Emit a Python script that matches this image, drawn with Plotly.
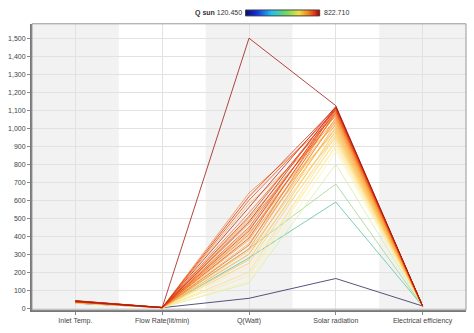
import plotly.graph_objects as go
from plotly.colors import sample_colorscale

# ---- data ----
categories = ["Inlet Temp.", "Flow Rate(lit/min)", "Q(Watt)", "Solar radiation", "Electrical efficiency"]

inlet_temp = [38, 42, 40, 36, 41, 39, 35, 40, 37, 34, 39, 36, 38, 41, 33, 37, 35, 36, 32, 39, 34, 35, 31, 36, 33, 30, 34, 30, 32, 29, 31, 30, 31, 30, 29, 28]
flow_rate = [3, 4, 4, 3, 4, 3, 4, 3, 4, 3, 4, 3, 4, 3, 3, 4, 3, 3, 3, 4, 3, 3, 3, 3, 3, 3, 3, 3, 3, 3, 3, 3, 3, 3, 3, 3]
q_watt = [1500, 560, 480, 620, 430, 510, 390, 600, 450, 350, 530, 410, 470, 640, 330, 500, 380, 440, 300, 580, 360, 420, 270, 490, 320, 250, 400, 200, 300, 180, 230, 150, 140, 330, 280, 55]
solar_rad = [1125, 1120, 1118, 1115, 1112, 1110, 1105, 1100, 1095, 1090, 1085, 1080, 1072, 1065, 1058, 1050, 1042, 1035, 1025, 1015, 1005, 995, 985, 975, 965, 955, 945, 935, 920, 905, 890, 870, 800, 690, 590, 165]
elec_eff = [12, 12, 12, 12, 12, 12, 12, 12, 12, 12, 12, 12, 12, 12, 12, 12, 12, 12, 12, 12, 12, 12, 12, 12, 12, 12, 12, 12, 12, 12, 12, 12, 12, 12, 12, 12]
q_sun = [822.71, 818.7, 817.3, 815.1, 812.9, 811.4, 807.8, 804.1, 800.4, 796.8, 793.1, 789.5, 783.6, 778.5, 773.4, 767.6, 761.7, 756.6, 749.3, 742.0, 734.7, 727.3, 720.0, 712.7, 705.4, 698.1, 690.8, 683.5, 672.5, 661.6, 650.6, 636.0, 584.8, 504.4, 431.3, 120.45]

q_min, q_max = 120.45, 822.71

line_scale = [
    [0.0, "#2a2c5e"], [0.44, "#5cc3a0"], [0.55, "#9fd993"], [0.66, "#dcefa6"],
    [0.74, "#fdf6b0"], [0.80, "#fde08a"], [0.86, "#fcc050"], [0.92, "#fba040"],
    [0.96, "#f57025"], [0.99, "#e03515"], [1.0, "#a01a14"],
]
jet_scale = [
    [0.0, "#0a0a70"], [0.15, "#1030e0"], [0.35, "#20c0f0"], [0.55, "#70d860"],
    [0.72, "#f0e040"], [0.85, "#f08020"], [0.95, "#e02010"], [1.0, "#900000"],
]

W, H = 474, 333
ML, MR, MT, MB = 27, 8, 8, 19
pw = W - ML - MR
ph = H - MT - MB


def px_y(y):
    return (H - MB - y) / ph


def px_x(x):
    return (x - ML) / pw


fig = go.Figure()

order = sorted(range(len(q_sun)), key=lambda i: q_sun[i])
for i in order:
    t = (q_sun[i] - q_min) / (q_max - q_min)
    col = sample_colorscale(line_scale, [t])[0]
    fig.add_trace(go.Scatter(
        x=[0, 1, 2, 3, 4],
        y=[inlet_temp[i], flow_rate[i], q_watt[i], solar_rad[i], elec_eff[i]],
        mode="lines", line=dict(color=col, width=1), opacity=0.8,
        showlegend=False, hoverinfo="skip"))

# colour legend bar as a tiny heatmap
n = 100
grad = [q_min + (q_max - q_min) * k / (n - 1) for k in range(n)]
fig.add_trace(go.Heatmap(z=[grad], x=grad, y=[0], colorscale=jet_scale, zmin=q_min, zmax=q_max,
                         showscale=False, xaxis="x2", yaxis="y2", hoverinfo="skip"))

# shaded bands
shapes = []
for i in [0, 2, 4]:
    shapes.append(dict(type="rect", xref="x", yref="y domain", x0=i - 0.5, x1=i + 0.5, y0=0, y1=1,
                       fillcolor="#f2f2f2", line=dict(width=0), layer="below"))
shapes.append(dict(type="rect", xref="x domain", yref="y domain", x0=0, x1=1, y0=0, y1=1,
                   line=dict(color="#999", width=1), layer="above"))
shapes.append(dict(type="rect", xref="x2 domain", yref="y2 domain", x0=0, x1=1, y0=0, y1=1,
                   line=dict(color="#444", width=1), layer="above"))

axis_common = dict(showgrid=True, gridcolor="#e2e2e2", gridwidth=1, zeroline=False,
                   showline=True, linecolor="#777", linewidth=2,
                   ticks="outside", ticklen=3, tickcolor="#888", tickfont=dict(size=7, color="#444"))

fig.update_layout(
    width=W, height=H,
    margin=dict(l=ML, r=MR, t=MT, b=MB),
    paper_bgcolor="white", plot_bgcolor="white",
    font=dict(family="Liberation Sans, Arial, sans-serif", size=7, color="#444"),
    shapes=shapes,
    xaxis=dict(domain=[0, 1], range=[-0.5, 4.5], tickvals=[0, 1, 2, 3, 4], ticktext=categories, **axis_common),
    yaxis=dict(domain=[0, px_y(24)], range=[-10, 1580], tickvals=list(range(0, 1501, 100)),
               tickformat=",d", **axis_common),
    xaxis2=dict(domain=[px_x(243), px_x(318)], anchor="y2", visible=False, range=[q_min, q_max]),
    yaxis2=dict(domain=[px_y(16), px_y(10)], anchor="x2", visible=False, range=[-0.5, 0.5]),
    annotations=[
        dict(text="<b>Q sun</b> 120.450", x=px_x(241), y=px_y(13), xref="paper", yref="paper",
             showarrow=False, xanchor="right", yanchor="middle", font=dict(size=7, color="#333")),
        dict(text="822.710", x=px_x(320), y=px_y(13), xref="paper", yref="paper",
             showarrow=False, xanchor="left", yanchor="middle", font=dict(size=7, color="#333")),
    ],
)

fig.write_html("out.html")
